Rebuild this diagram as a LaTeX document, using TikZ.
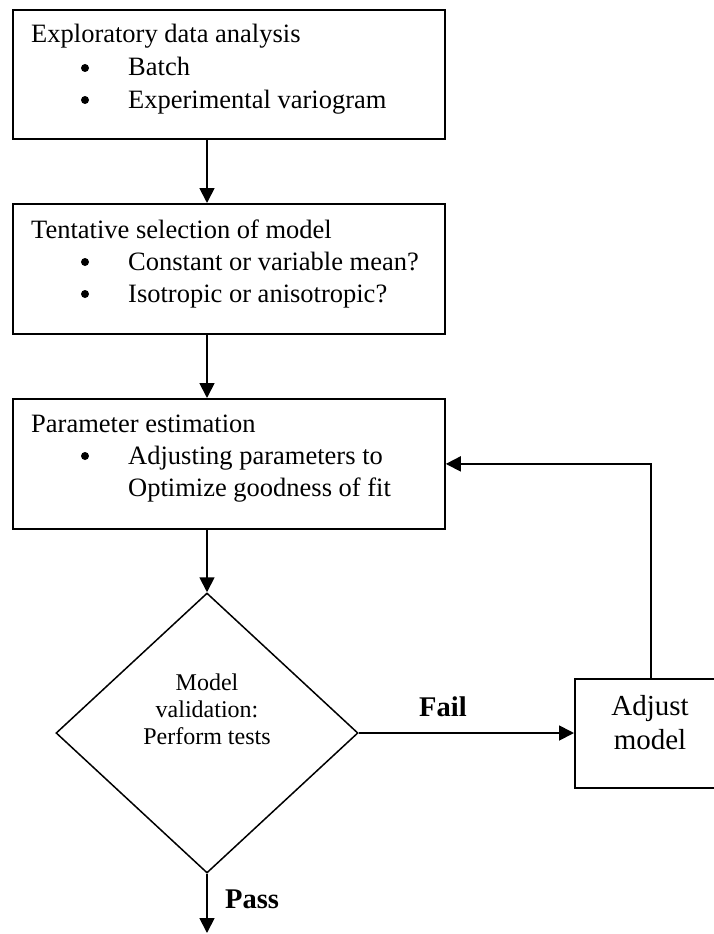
\documentclass[tikz,border=0pt]{standalone}
\usepackage{fontspec}
\setmainfont{Liberation Serif}
\usetikzlibrary{arrows.meta,shapes.geometric}
\begin{document}
\begin{tikzpicture}[x=1pt,y=-1pt,
  box/.style={draw,line width=1.8pt,inner sep=0pt,anchor=north west},
  txt/.style={anchor=base west,inner sep=0pt,font=\fontsize{26.5}{32}\selectfont},
  ctxt/.style={anchor=base,inner sep=0pt,font=\fontsize{24}{27}\selectfont},
  atxt/.style={anchor=base,inner sep=0pt,font=\fontsize{29}{34}\selectfont},
  lbl/.style={anchor=base west,inner sep=0pt,font=\fontsize{28.5}{34}\selectfont\bfseries},
  bul/.style={circle,fill,inner sep=0pt,minimum size=8pt},
  arr/.style={line width=1.8pt,-{Triangle[length=15pt,width=15pt]}},
  ln/.style={line width=1.8pt}]
\useasboundingbox (0,0) rectangle (714,934);

% boxes
\node[box,minimum width=432pt,minimum height=129pt] (box1) at (12,9) {};
\node[box,minimum width=432pt,minimum height=130pt] (box2) at (12,203) {};
\node[box,minimum width=432pt,minimum height=130pt] (box3) at (12,398) {};
\node[draw,diamond,line width=1.5pt,minimum width=302pt,minimum height=280pt,inner sep=0pt] (val) at (207,733) {};
\node[box,minimum width=152pt,minimum height=109pt] (adj) at (574,678) {};

% box 1 text
\node[txt] (t1) at (31,43) {Exploratory data analysis};
\node[bul] (b1a) at (85,68) {};
\node[txt] (t1a) at (128,76) {Batch};
\node[bul] (b1b) at (85,100) {};
\node[txt] (t1b) at (128,108) {Experimental variogram};

% box 2 text
\node[txt] (t2) at (31,238) {Tentative selection of model};
\node[bul] (b2a) at (85,262) {};
\node[txt] (t2a) at (128,270) {Constant or variable mean?};
\node[bul] (b2b) at (85,294) {};
\node[txt] (t2b) at (128,302) {Isotropic or anisotropic?};

% box 3 text
\node[txt] (t3) at (31,432) {Parameter estimation};
\node[bul] (b3a) at (85,456) {};
\node[txt] (t3a) at (128,464) {Adjusting parameters to};
\node[txt] (t3b) at (128,496) {Optimize goodness of fit};

% diamond text
\node[ctxt] (v1) at (207,690) {Model};
\node[ctxt] (v2) at (207,717) {validation:};
\node[ctxt] (v3) at (207,744) {Perform tests};

% adjust text
\node[atxt] (a1) at (650,715) {Adjust};
\node[atxt] (a2) at (650,749) {model};

% labels
\node[lbl] (fail) at (419,716) {Fail};
\node[lbl] (pass) at (225,908) {Pass};

% connectors
\coordinate (passend) at (207,933);
\draw[arr] (box1.south -| val.north) -- (box2.north -| val.north);
\draw[arr] (box2.south -| val.north) -- (box3.north -| val.north);
\draw[arr] (box3.south -| val.north) -- (val.north);
\draw[arr] (val.east) -- (val.east -| adj.west);
\draw[arr] (adj.north) |- (box3.east);
\draw[arr] (val.south) -- (passend);
\end{tikzpicture}
\end{document}
